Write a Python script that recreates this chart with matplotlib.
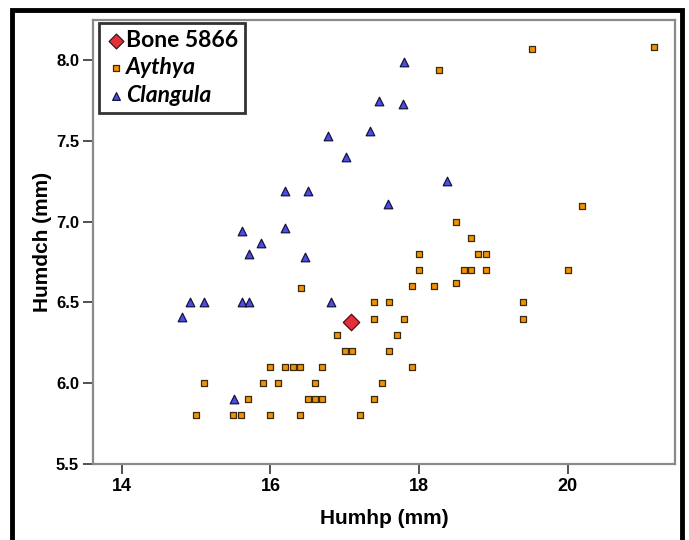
import matplotlib.pyplot as plt
from matplotlib.patches import Rectangle

# Aythya (orange squares)
aythya_x = [19.52, 21.17, 18.27, 20.2, 18.5, 18.7, 18.0, 18.8, 18.9, 18.0,
            18.6, 18.7, 18.9, 20.0, 17.9, 18.2, 18.5, 16.41, 17.4, 17.6,
            19.4, 17.4, 17.8, 19.4, 16.9, 17.7, 17.0, 17.1, 17.6, 16.0,
            16.2, 16.3, 16.4, 16.7, 17.9, 15.1, 15.9, 16.1, 16.6, 17.5,
            15.7, 16.5, 16.6, 16.7, 17.4, 15.0, 15.5, 15.6, 16.0, 16.4,
            17.2]
aythya_y = [8.07, 8.08, 7.94, 7.10, 7.00, 6.90, 6.80, 6.80, 6.80, 6.70,
            6.70, 6.70, 6.70, 6.70, 6.60, 6.60, 6.62, 6.59, 6.50, 6.50,
            6.50, 6.40, 6.40, 6.40, 6.30, 6.30, 6.20, 6.20, 6.20, 6.10,
            6.10, 6.10, 6.10, 6.10, 6.10, 6.00, 6.00, 6.00, 6.00, 6.00,
            5.90, 5.90, 5.90, 5.90, 5.90, 5.80, 5.80, 5.80, 5.80, 5.80,
            5.80]

# Clangula (blue triangles)
clangula_x = [17.8, 17.46, 17.79, 16.77, 17.34, 17.02, 18.38, 16.19, 16.51,
              17.58, 16.2, 15.62, 15.87, 15.71, 16.46, 14.91, 15.11, 15.61,
              15.71, 16.81, 14.81, 15.51]
clangula_y = [7.99, 7.75, 7.73, 7.53, 7.56, 7.40, 7.25, 7.19, 7.19,
              7.11, 6.96, 6.94, 6.87, 6.80, 6.78, 6.50, 6.50, 6.50,
              6.50, 6.50, 6.41, 5.90]

# Bone 5866 (red diamond)
bone_x = [17.08]
bone_y = [6.38]

xticks = [14, 16, 18, 20]
yticks = [5.5, 6.0, 6.5, 7.0, 7.5, 8.0]

narrow = ['Liberation Sans Narrow', 'Liberation Sans', 'DejaVu Sans']

fig = plt.figure(figsize=(6.89, 5.4), dpi=100)
ax = fig.add_axes([0.135, 0.141, 0.845, 0.822])

ax.scatter(aythya_x, aythya_y, marker='s', s=19, color='#F39200',
           edgecolors='#3a2a10', linewidths=0.9, label='Aythya', zorder=3)
ax.scatter(clangula_x, clangula_y, marker='^', s=38, color='#4C4CE6',
           edgecolors='#15153a', linewidths=0.9, label='Clangula', zorder=3)
ax.scatter(bone_x, bone_y, marker='D', s=70, color='#E3303A',
           edgecolors='#4a1010', linewidths=0.9, label='Bone 5866', zorder=4)

ax.set_xlim(13.61, 21.45)
ax.set_ylim(5.5, 8.25)
ax.set_xticks(xticks)
ax.set_yticks(yticks)
ax.set_xticklabels([str(t) for t in xticks], fontfamily=narrow,
                   fontweight='bold', fontsize=13)
ax.set_yticklabels(['%.1f' % t for t in yticks], fontfamily=narrow,
                   fontweight='bold', fontsize=12)
ax.tick_params(axis='both', direction='out', length=7, width=1.2,
               color='#333333', pad=3)

for sp in ax.spines.values():
    sp.set_color('#8a8a8a')
    sp.set_linewidth(1.6)

ax.set_xlabel('Humhp (mm)', fontfamily=narrow, fontweight='bold',
              fontsize=15, labelpad=10)
ax.set_ylabel('Humdch (mm)', fontfamily=narrow, fontweight='bold',
              fontsize=15, labelpad=3)

handles, labels = ax.get_legend_handles_labels()
order = [2, 0, 1]
leg = ax.legend([handles[i] for i in order], [labels[i] for i in order],
                loc='upper left', bbox_to_anchor=(0.01, 0.994),
                frameon=True, fancybox=False, handletextpad=0.0,
                handlelength=0.9, borderpad=0.3, labelspacing=0.3,
                borderaxespad=0.0, markerscale=0.9,
                prop={'family': 'Lato', 'weight': 'bold', 'size': 16.5})
leg.get_frame().set_edgecolor('black')
leg.get_frame().set_linewidth(2.0)
for txt in leg.get_texts()[1:]:
    txt.set_style('italic')

# thick outer frame round the whole figure
fig.patches.append(Rectangle((12 / 689, -0.05), 670 / 689, 1.05 - 10 / 540,
                             transform=fig.transFigure, fill=False,
                             edgecolor='black', linewidth=3.5))

fig.savefig('out.png', dpi=100)
